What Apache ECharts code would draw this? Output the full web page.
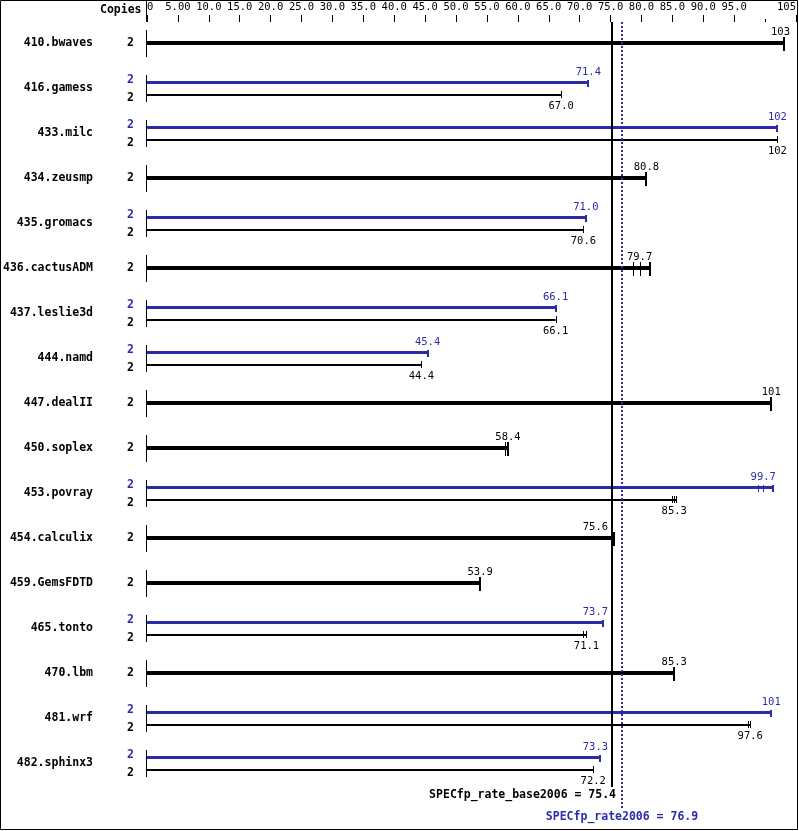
<!DOCTYPE html>
<html><head><meta charset="utf-8">
<script src="https://cdn.jsdelivr.net/npm/echarts@6/dist/echarts.min.js"></script>
<style>html,body{margin:0;padding:0;background:#fff}#c{width:799px;height:831px}</style>
</head><body><div id="c"></div>
<script>
const benchmarks = ['410.bwaves','416.gamess','433.milc','434.zeusmp','435.gromacs','436.cactusADM','437.leslie3d','444.namd','447.dealII','450.soplex','453.povray','454.calculix','459.GemsFDTD','465.tonto','470.lbm','481.wrf','482.sphinx3'];
const baseCopies = [2,2,2,2,2,2,2,2,2,2,2,2,2,2,2,2,2];
const peakCopies = [null,2,2,null,2,null,2,2,null,null,2,null,null,2,null,2,2];
const baseValues = [103,67.0,102,80.8,70.6,79.7,66.1,44.4,101,58.4,85.3,75.6,53.9,71.1,85.3,97.6,72.2];
const peakValues = [null,71.4,102,null,71.0,null,66.1,45.4,null,null,99.7,null,null,73.7,null,101,73.3];
const baseRuns = [[103],[67.0],[102],[80.8],[70.6],[78.7,79.7,81.3],[66.1],[44.4],[101],[58.0,58.4],[84.9,85.3,85.6],[75.6],[53.9],[70.6,71.1],[85.3],[97.2,97.6],[72.2]];
const peakRuns = [null,[71.4],[102],null,[71.0],null,[66.1],[45.4],null,null,[98.9,99.7,101.2],null,null,[73.7],null,[101],[73.3]];
const baseMean = 75.4;
const peakMean = 76.9;
const tickValues = [0,5,10,15,20,25,30,35,40,45,50,55,60,65,70,75,80,85,90,95,105];
const tickLabels = ['0','5.00','10.0','15.0','20.0','25.0','30.0','35.0','40.0','45.0','50.0','55.0','60.0','65.0','70.0','75.0','80.0','85.0','90.0','95.0','105'];
const shortTickValues = [100];

const BLACK = '#000000', BLUE = '#2b2bab';
const FONT = '"DejaVu Sans Mono", monospace';
function fmt(v){ return v >= 100 ? String(Math.round(v)) : v.toFixed(1); }

function barEls(api, runs, value, yc, thick, color, capUp, capDown, labelDy, endW, midW, x0, baseX){
  const maxRun = Math.max.apply(null, runs);
  const xEnd = api.coord([maxRun, 0])[0];
  const els = [];
  els.push({type:'rect', shape:{x:x0, y:yc - thick/2, width:xEnd - x0, height:thick}, style:{fill:color}});
  runs.forEach(function(r){
    const x = Math.round(api.coord([r, 0])[0]);
    const w = (r === maxRun) ? endW : midW;
    els.push({type:'rect', shape:{x:x - w + 1, y:Math.round(yc) - capUp, width:w, height:capUp + capDown}, style:{fill:color}});
  });
  const xl = api.coord([value, 0])[0];
  const txt = fmt(value);
  const half = txt.length * 6.32 / 2;
  let lx = xl;
  if (lx + half > 790) lx = 790 - half;
  if (xl < baseX + 10 && lx + half > baseX - 5) lx = baseX - 5 - half;
  els.push({type:'text', style:{text:txt, x:lx, y:yc + labelDy, fill:color, fontSize:10.5, fontFamily:FONT, align:'center', verticalAlign:'middle'}});
  return els;
}

function renderRow(params, api){
  const i = params.dataIndex;
  const p = api.coord([0, i]);
  const x0 = p[0], y0 = p[1];
  const baseX = api.coord([baseMean, 0])[0];
  let children = [];
  children.push({type:'line', shape:{x1:x0 - 0.5, y1:y0 - 13, x2:x0 - 0.5, y2:y0 + 14}, style:{stroke:BLACK, lineWidth:1}});
  const bold = {fontSize:11.5, fontFamily:FONT, fontWeight:'bold', align:'center', verticalAlign:'middle'};
  if (peakValues[i] == null){
    children = children.concat(barEls(api, baseRuns[i], baseValues[i], y0, 4, BLACK, 6, 8, -10.5, 2, 1, x0, baseX));
    children.push({type:'text', style:Object.assign({text:String(baseCopies[i]), x:x0 - 16.5, y:y0, fill:BLACK}, bold)});
  } else {
    children = children.concat(barEls(api, peakRuns[i], peakValues[i], y0 - 5.5, 3, BLUE, 3, 4, -10, 2, 1, x0, baseX));
    children = children.concat(barEls(api, baseRuns[i], baseValues[i], y0 + 7, 2, BLACK, 4, 3, 11, 1, 1, x0, baseX));
    children.push({type:'text', style:Object.assign({text:String(peakCopies[i]), x:x0 - 16.5, y:y0 - 8, fill:BLUE}, bold)});
    children.push({type:'text', style:Object.assign({text:String(baseCopies[i]), x:x0 - 16.5, y:y0 + 10, fill:BLACK}, bold)});
  }
  return {type:'group', children:children};
}

function renderMeans(params, api){
  const cs = params.coordSys;
  const x0 = api.coord([0, 0])[0];
  const xb = api.coord([baseMean, 0])[0];
  const xp = Math.round(api.coord([peakMean, 0])[0]);
  const top = cs.y + 1.5, bottom = cs.y + cs.height + 1.5;
  const bold = {fontSize:11.5, fontFamily:FONT, fontWeight:'bold', verticalAlign:'middle'};
  return {type:'group', children:[
    {type:'line', shape:{x1:x0 - 0.5, y1:0, x2:x0 - 0.5, y2:top}, style:{stroke:BLACK, lineWidth:1}},
    {type:'rect', shape:{x:Math.round(xb) - 2, y:top, width:2, height:bottom - top}, style:{fill:BLACK}},
    {type:'line', shape:{x1:xp, y1:top, x2:xp, y2:bottom + 22}, style:{stroke:BLUE, lineWidth:2, lineDash:[2,2]}},
    {type:'text', style:Object.assign({text:'SPECfp_rate_base2006 = ' + baseMean.toFixed(1), x:xb + 3, y:bottom + 8.5, fill:BLACK, align:'right'}, bold)},
    {type:'text', style:Object.assign({text:'SPECfp_rate2006 = ' + peakMean.toFixed(1), x:xp, y:bottom + 30.5, fill:BLUE, align:'center'}, bold)}
  ]};
}

const chart = echarts.init(document.getElementById('c'), null, {renderer:'canvas'});
chart.setOption({
  animation:false,
  backgroundColor:'#ffffff',
  grid:{left:147, right:2, top:20.5, height:765},
  xAxis:[{
    type:'value', min:0, max:105, position:'top', offset:-1.5,
    axisLine:{show:false}, splitLine:{show:false},
    axisTick:{show:true, customValues:tickValues, length:7, lineStyle:{color:BLACK, width:1}},
    axisLabel:{show:true, customValues:tickValues, margin:9.5, color:BLACK, fontSize:10.5, fontFamily:FONT,
      alignMinLabel:'left', alignMaxLabel:'right',
      formatter:function(v){ const k = tickValues.indexOf(v); return k >= 0 ? tickLabels[k] : ''; }}
  },{
    type:'value', min:0, max:105, position:'top', offset:-1.5,
    axisLine:{show:false}, splitLine:{show:false},
    axisTick:{show:true, customValues:shortTickValues, length:3, lineStyle:{color:BLACK, width:1}},
    axisLabel:{show:false}
  }],
  yAxis:{
    type:'category', data:benchmarks, inverse:true,
    axisLine:{show:false}, axisTick:{show:false}, splitLine:{show:false},
    axisLabel:{margin:54, color:BLACK, fontSize:11.5, fontWeight:'bold', fontFamily:FONT}
  },
  graphic:[
    {type:'rect', shape:{x:0.5, y:0.5, width:797, height:829}, style:{fill:'none', stroke:BLACK, lineWidth:1}, silent:true, z:100},
    {type:'text', left:100, top:4, style:{text:'Copies', fill:BLACK, fontSize:11.5, fontWeight:'bold', fontFamily:FONT}}
  ],
  series:[
    {type:'custom', renderItem:renderRow, data:benchmarks.map(function(_, i){ return [0, i]; }), encode:{x:0, y:1}, silent:true, z:2},
    {type:'custom', renderItem:renderMeans, data:[[0, 0]], encode:{x:0, y:1}, silent:true, z:5}
  ]
});
</script>
</body></html>
